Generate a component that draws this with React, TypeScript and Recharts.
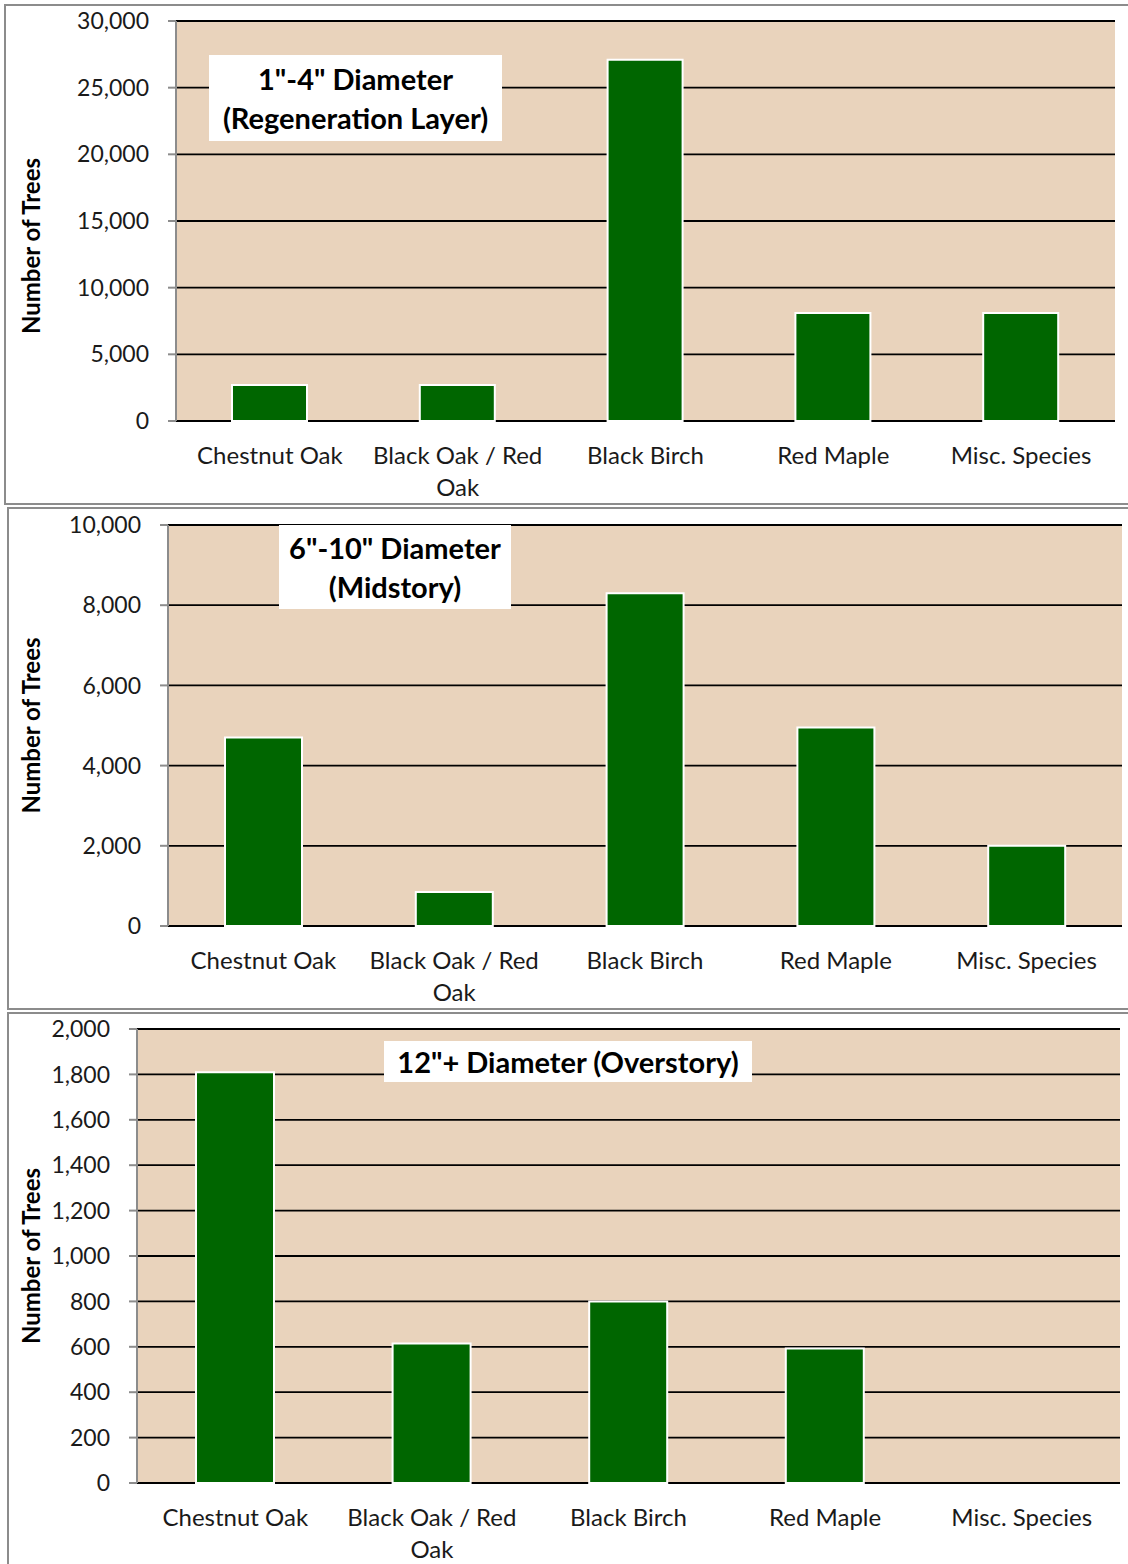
import React from 'react';
import { BarChart, Bar, XAxis, YAxis, CartesianGrid } from 'recharts';

const FONT = 'Lato, "Noto Sans", sans-serif';

const species = ['Chestnut Oak', 'Black Oak / Red Oak', 'Black Birch', 'Red Maple', 'Misc. Species'];

// trees per species
const regenerationCounts = [2700, 2700, 27100, 8100, 8100];
const midstoryCounts = [4700, 850, 8300, 4950, 2000];
const overstoryCounts = [1810, 615, 800, 593, 0];

const regenerationTicks = [0, 5000, 10000, 15000, 20000, 25000, 30000];
const midstoryTicks = [0, 2000, 4000, 6000, 8000, 10000];
const overstoryTicks = [0, 200, 400, 600, 800, 1000, 1200, 1400, 1600, 1800, 2000];

const boundaryTicks = [0, 1, 2, 3, 4, 5];

const regenerationTitle = ['1"-4" Diameter', '(Regeneration Layer)'];
const midstoryTitle = ['6"-10" Diameter', '(Midstory)'];
const overstoryTitle = ['12"+ Diameter (Overstory)'];

const wrapLabel = (text: string, max = 15) => {
  const lines: string[] = [];
  let cur = '';
  text.split(' ').forEach(w => {
    const next = cur ? cur + ' ' + w : w;
    if (next.length > max && cur) {
      lines.push(cur);
      cur = w;
    } else {
      cur = next;
    }
  });
  if (cur) lines.push(cur);
  return lines;
};

const SpeciesTick = (props: any) => {
  const { x, y, payload } = props;
  const lines = wrapLabel(String(payload.value));
  return (
    <text x={x} y={y} textAnchor="middle" fill="#1a1a1a" fontSize={24} fontFamily={FONT}>
      {lines.map((l, i) => (
        <tspan key={i} x={x} dy={i === 0 ? 43 : 32}>{l}</tspan>
      ))}
    </text>
  );
};

const YLabel = (props: any) => {
  const { viewBox, shift } = props;
  const cx = 30;
  const cy = viewBox.y + viewBox.height / 2 + (shift || 0);
  return (
    <text x={cx} y={cy} transform={`rotate(-90 ${cx} ${cy})`} textAnchor="middle" dominantBaseline="central"
      fill="#000" fontSize={24} fontWeight="bold" fontFamily={FONT}>
      Number of Trees
    </text>
  );
};

interface PanelProps {
  top: number;
  height: number;
  frameLeft: number;
  plotLeft: number;
  plotRight: number;
  plotTop: number;
  plotBottom: number;
  counts: number[];
  ticks: number[];
  barSize: number;
  title: string[];
  titleBox: { left: number; top: number; width: number; height: number };
  labelShift?: number;
}

const Panel = ({ top, height, frameLeft, plotLeft, plotRight, plotTop, plotBottom, counts, ticks, barSize, title, titleBox, labelShift }: PanelProps) => {
  const data = species.map((name, i) => ({ name, trees: counts[i] }));
  const width = 1128;
  const axisHeight = 70;
  return (
    <div style={{ position: 'absolute', left: 0, top, width, height }}>
      <div style={{ position: 'absolute', left: frameLeft, top: 0, width: width + 4 - frameLeft, height: height - 2, border: '2px solid #8c8c8c', boxSizing: 'border-box', borderRight: 'none' }} />
      <div style={{ position: 'absolute', left: 0, top: 0 }}>
        <BarChart width={width} height={height} data={data}
          margin={{ top: plotTop, right: width - plotRight, left: 0, bottom: height - plotBottom - axisHeight }}>
          <CartesianGrid vertical={false} stroke="#000" strokeWidth={1.8} fill="#E9D3BC" fillOpacity={1} />
          <XAxis xAxisId="edges" type="number" domain={[0, 5]} ticks={boundaryTicks} allowDataOverflow
            height={0} stroke="#8c8c8c" strokeWidth={2} tickSize={8} tickFormatter={() => ''} />
          <XAxis xAxisId="cat" dataKey="name" height={axisHeight} axisLine={false} tickLine={false}
            tickSize={0} tickMargin={0} interval={0} tick={<SpeciesTick />} />
          <YAxis width={plotLeft} domain={[ticks[0], ticks[ticks.length - 1]]} ticks={ticks} interval={0}
            stroke="#8c8c8c" strokeWidth={2} tickSize={8} tickMargin={19}
            tick={{ fontSize: 23, fill: '#1a1a1a', fontFamily: FONT }}
            tickFormatter={(v: number) => v.toLocaleString('en-US')}
            label={<YLabel shift={labelShift} />} />
          <Bar xAxisId="cat" dataKey="trees" fill="#006600" stroke="#ffffff" strokeWidth={2} barSize={barSize} isAnimationActive={false} />
        </BarChart>
      </div>
      <div style={{ position: 'absolute', left: titleBox.left, top: titleBox.top, width: titleBox.width, height: titleBox.height,
        background: '#fff', display: 'flex', flexDirection: 'column', justifyContent: 'center', alignItems: 'center',
        fontFamily: FONT, fontWeight: 'bold', fontSize: 29, lineHeight: '39px', color: '#000', whiteSpace: 'nowrap' }}>
        {title.map(t => <div key={t}>{t}</div>)}
      </div>
    </div>
  );
};

export default function App() {
  return (
    <div style={{ position: 'absolute', left: 0, top: 0, width: 1128, height: 1564, background: '#fff', overflow: 'hidden' }}>
      <Panel top={4} height={503} frameLeft={4} plotLeft={176} plotRight={1115} plotTop={17} plotBottom={417}
        counts={regenerationCounts} ticks={regenerationTicks} barSize={75} title={regenerationTitle}
        titleBox={{ left: 209, top: 51, width: 293, height: 86 }} labelShift={25} />
      <Panel top={507} height={505} frameLeft={7} plotLeft={168} plotRight={1122} plotTop={18} plotBottom={419}
        counts={midstoryCounts} ticks={midstoryTicks} barSize={77} title={midstoryTitle}
        titleBox={{ left: 279, top: 18, width: 232, height: 84 }} />
      <Panel top={1012} height={556} frameLeft={7} plotLeft={137} plotRight={1120} plotTop={17} plotBottom={471}
        counts={overstoryCounts} ticks={overstoryTicks} barSize={78} title={overstoryTitle}
        titleBox={{ left: 384, top: 29, width: 368, height: 41 }} />
    </div>
  );
}
